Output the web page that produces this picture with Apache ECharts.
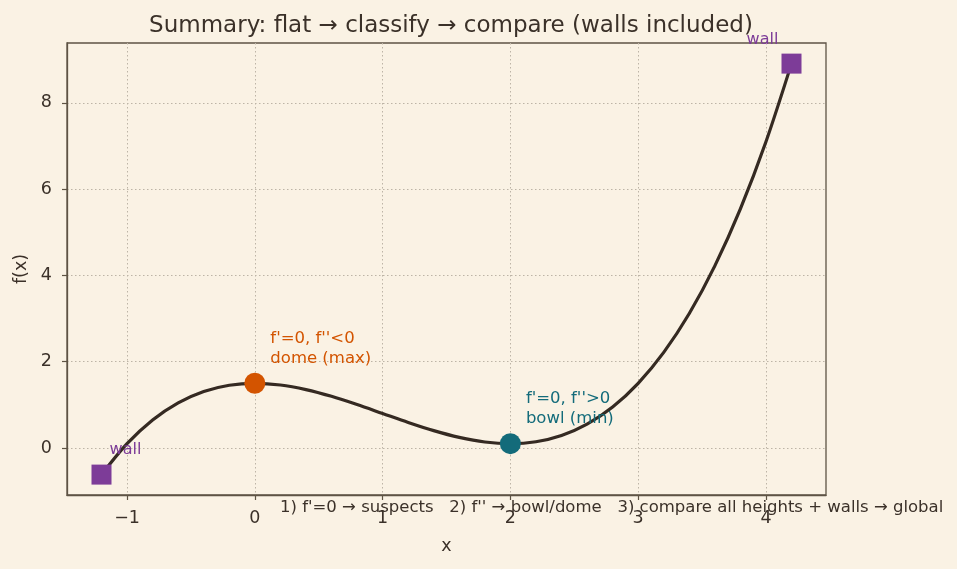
<!DOCTYPE html>
<html><head><meta charset="utf-8">
<script src="https://cdn.jsdelivr.net/npm/echarts@6/dist/echarts.min.js"></script>
<style>html,body{margin:0;padding:0;background:#faf2e4;}#c{width:957px;height:569px;}</style>
</head><body><div id="c"></div>
<script>
// curve samples
const curveX = [-1.2,-1.0,-0.8,-0.6,-0.4,-0.2,0,0.2,0.4,0.6,0.8,1.0,1.2,1.4,1.6,1.8,2.0,2.2,2.4,2.6,2.8,3.0,3.2,3.4,3.6,3.8,4.0,4.2];
const curveY = [-0.617,0.10,0.649,1.046,1.310,1.455,1.5,1.461,1.354,1.198,1.007,0.80,0.593,0.402,0.246,0.139,0.10,0.145,0.290,0.554,0.951,1.50,2.217,3.118,4.222,5.543,7.10,8.912];
const maxPoint = [0, 1.5];
const minPoint = [2, 0.1];
const walls = [[-1.2, -0.617], [4.2, 8.912]];
const xTicks = [-1, 0, 1, 2, 3, 4];
const yTicks = [0, 2, 4, 6, 8];
const titleText = 'Summary: flat \u2192 classify \u2192 compare (walls included)';
const stepsText = "1) f'=0 \u2192 suspects   2) f'' \u2192 bowl/dome   3) compare all heights + walls \u2192 global";

const FONT = 'DejaVu Sans';
const ink = '#3b3129';
const axisCol = '#5e5344';
const gridCol = '#bdb4a6';

const chart = echarts.init(document.getElementById('c'), null, {renderer:'canvas'});
const fmt = v => (v < 0 ? '\u2212' + Math.abs(v) : String(v));
chart.setOption({
  backgroundColor: '#faf2e4',
  animation: false,
  textStyle: {fontFamily: FONT},
  title: {text: titleText, left: 446, top: 10, textAlign: 'center',
    textStyle: {fontFamily: FONT, fontSize: 23, fontWeight: 'normal', color: ink}},
  grid: {left: 67, top: 43, right: 131, bottom: 74, containLabel: false, outerBoundsMode: 'none',
    show: true, borderColor: axisCol, borderWidth: 1.3, backgroundColor: 'transparent'},
  xAxis: {
    type: 'value', min: -1.47, max: 4.47, interval: 1,
    name: 'x', nameLocation: 'middle', nameGap: 42,
    nameTextStyle: {fontFamily: FONT, fontSize: 17.5, color: ink},
    axisLine: {show: true, onZero: false, lineStyle: {color: axisCol, width: 1.3}},
    axisTick: {show: true, length: 5, lineStyle: {color: axisCol, width: 1.2}, customValues: xTicks},
    axisLabel: {fontFamily: FONT, fontSize: 17.5, color: ink, margin: 14, formatter: fmt, customValues: xTicks},
    splitLine: {show: true, lineStyle: {color: gridCol, type: [1.5, 2.5], width: 1}}
  },
  yAxis: {
    type: 'value', min: -1.09, max: 9.39, interval: 2,
    name: 'f(x)', nameLocation: 'middle', nameGap: 35, nameRotate: 90,
    nameTextStyle: {fontFamily: FONT, fontSize: 17.5, color: ink},
    axisLine: {show: true, onZero: false, lineStyle: {color: axisCol, width: 1.3}},
    axisTick: {show: true, length: 5, lineStyle: {color: axisCol, width: 1.2}, customValues: yTicks},
    axisLabel: {fontFamily: FONT, fontSize: 17.5, color: ink, margin: 15, formatter: fmt, customValues: yTicks},
    splitLine: {show: true, lineStyle: {color: gridCol, type: [1.5, 2.5], width: 1}}
  },
  series: [
    {type: 'line', data: curveX.map((x, i) => [x, curveY[i]]), smooth: 0.3, showSymbol: false,
     lineStyle: {color: '#352a22', width: 3.2}, z: 2},
    {type: 'scatter', data: [maxPoint], symbol: 'circle', symbolSize: 21,
     itemStyle: {color: '#d35400', opacity: 1}, z: 3,
     label: {show: true, position: 'right', offset: [0, -35], align: 'left',
       formatter: "f'=0, f''<0\ndome (max)", color: '#d35400', fontFamily: FONT, fontSize: 16.5, lineHeight: 20}},
    {type: 'scatter', data: [minPoint], symbol: 'circle', symbolSize: 21,
     itemStyle: {color: '#136b7a', opacity: 1}, z: 3,
     label: {show: true, position: 'right', offset: [0, -35], align: 'left',
       formatter: "f'=0, f''>0\nbowl (min)", color: '#136b7a', fontFamily: FONT, fontSize: 16.5, lineHeight: 20}},
    {type: 'scatter', data: [walls[0]], symbol: 'rect', symbolSize: 20,
     itemStyle: {color: '#7d3c98', opacity: 1}, z: 3,
     label: {show: true, position: 'inside', offset: [24, -25], formatter: 'wall', color: '#7d3c98', fontFamily: FONT, fontSize: 16}},
    {type: 'scatter', data: [walls[1]], symbol: 'rect', symbolSize: 20,
     itemStyle: {color: '#7d3c98', opacity: 1}, z: 3,
     label: {show: true, position: 'inside', offset: [-29, -24], formatter: 'wall', color: '#7d3c98', fontFamily: FONT, fontSize: 16}}
  ],
  graphic: [{type: 'text', left: 280, top: 499, z: 10,
    style: {text: stepsText, fill: ink, font: '16.5px "DejaVu Sans"'}}]
});
</script></body></html>
